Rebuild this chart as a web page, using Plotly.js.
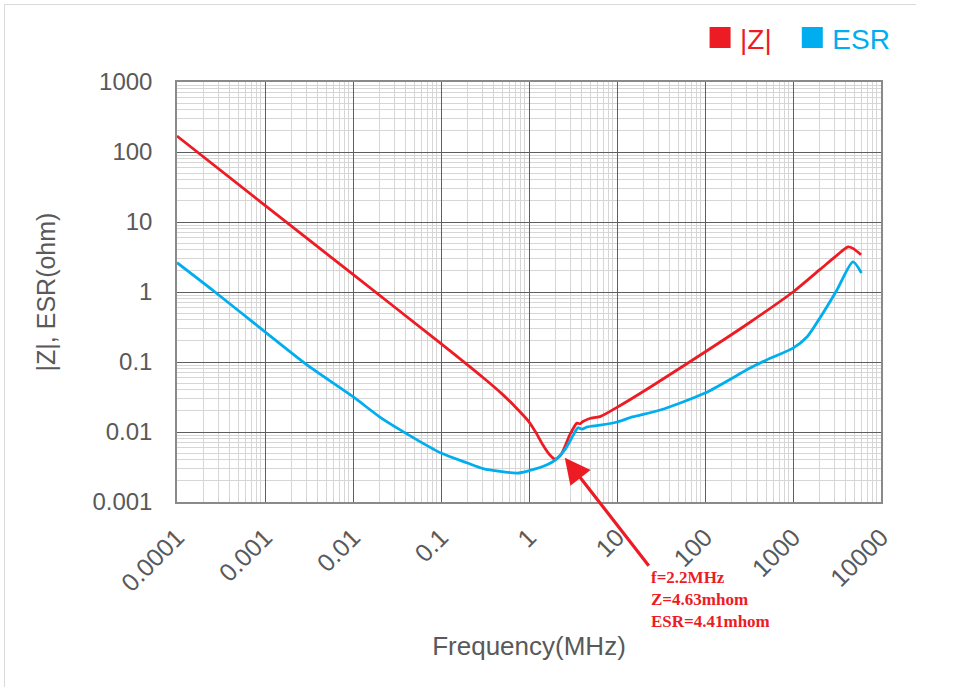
<!DOCTYPE html>
<html>
<head>
<meta charset="utf-8">
<script src="https://cdn.plot.ly/plotly-3.0.1.min.js"></script>
<style>
  body { margin: 0; background: #fff; }
  #frame { position: absolute; left: 4px; top: 4px; width: 911px; height: 682px;
           border-left: 1px solid #d9d9d9; border-top: 1px solid #d9d9d9; pointer-events: none; }
</style>
</head>
<body>
<div id="plot" style="width:975px;height:693px;"></div>
<div id="frame"></div>
<script>
// |Z| curve, frequency in MHz, impedance in ohm
var zFreq = [0.0001, 0.001, 0.01, 0.1, 0.3, 0.5, 0.7, 1.0, 1.2, 1.44, 1.7, 1.97, 2.3, 2.9, 3.5, 3.8, 4.1, 4.9, 6.4, 10, 24, 100, 325, 1000, 2030, 3200, 4220, 4800, 5930];
var zVals = [169, 17.3, 1.78, 0.183, 0.060, 0.0345, 0.0228, 0.0140, 0.0098, 0.0065, 0.0048, 0.0041, 0.0047, 0.0090, 0.0134, 0.0131, 0.0141, 0.0156, 0.0166, 0.0225, 0.044, 0.139, 0.37, 1.0, 2.1, 3.4, 4.4, 4.2, 3.4];

// ESR curve
var esrFreq = [0.0001, 0.00027, 0.001, 0.003, 0.01, 0.02, 0.034, 0.05, 0.1, 0.2, 0.3, 0.73, 1.0, 1.6, 2.0, 2.56, 3.2, 3.6, 4.0, 4.6, 6.4, 10, 15, 31, 100, 325, 500, 1000, 1450, 2030, 3160, 4800, 6000];
var esrVals = [2.62, 1.0, 0.27, 0.091, 0.0319, 0.0165, 0.0108, 0.0081, 0.0050, 0.0036, 0.0030, 0.00259, 0.0028, 0.0034, 0.0040, 0.0056, 0.0091, 0.0115, 0.0110, 0.0118, 0.0125, 0.0139, 0.0164, 0.0206, 0.036, 0.082, 0.107, 0.158, 0.23, 0.43, 1.07, 2.7, 1.87];

var xTickVals = [0.0001, 0.001, 0.01, 0.1, 1, 10, 100, 1000, 10000];
var xTickText = ["0.0001", "0.001", "0.01", "0.1", "1", "10", "100", "1000", "10000"];
var yTickVals = [0.001, 0.01, 0.1, 1, 10, 100, 1000];
var yTickText = ["0.001", "0.01", "0.1", "1", "10", "100", "1000"];

var red = "#ed1c24";
var blue = "#00aeef";

var zTrace = {x: zFreq, y: zVals, type: "scatter", mode: "lines",
              line: {color: red, width: 2.8, shape: "spline", smoothing: 0.7},
              showlegend: false, hoverinfo: "x+y"};

var esrTrace = {x: esrFreq, y: esrVals, type: "scatter", mode: "lines",
                line: {color: blue, width: 2.8, shape: "spline", smoothing: 0.7},
                showlegend: false, hoverinfo: "x+y"};

// legend entries drawn as squares
var zLegend = {x: [null], y: [null], type: "scatter", mode: "markers",
               marker: {color: red, symbol: "square", size: 16, line: {color: red, width: 5}},
               name: '<span style="color:' + red + '">|Z|&nbsp;&nbsp;</span>'};
var esrLegend = {x: [null], y: [null], type: "scatter", mode: "markers",
                 marker: {color: blue, symbol: "square", size: 16, line: {color: blue, width: 5}},
                 name: '<span style="color:' + blue + '">ESR</span>'};

var data = [zTrace, esrTrace, zLegend, esrLegend];

var tickFont = {family: "Liberation Sans, Arial, sans-serif", size: 24, color: "#595959"};
var titleFont = {family: "Liberation Sans, Arial, sans-serif", size: 25, color: "#595959"};

var layout = {
    width: 975,
    height: 693,
    margin: {l: 177, r: 94, t: 82, b: 191},
    paper_bgcolor: "#fff",
    plot_bgcolor: "#fff",
    font: tickFont,
    xaxis: {
        type: "log",
        range: [-4, 4],
        tickvals: xTickVals,
        ticktext: xTickText,
        tickangle: -45,
        tickfont: {family: tickFont.family, size: 25, color: tickFont.color},
        ticks: "outside",
        ticklen: 9,
        tickcolor: "rgba(0,0,0,0)",
        showgrid: true,
        gridcolor: "#5e5e5e",
        gridwidth: 1.4,
        showline: true,
        mirror: true,
        linecolor: "#8a8a8a",
        linewidth: 1.5,
        zeroline: false,
        minor: {dtick: "D1", showgrid: true, gridcolor: "#d6d6d6", gridwidth: 1},
        title: {text: "Frequency(MHz)", font: {family: titleFont.family, size: 26, color: titleFont.color}, standoff: 41}
    },
    yaxis: {
        type: "log",
        range: [-3, 3],
        tickvals: yTickVals,
        ticktext: yTickText,
        tickfont: tickFont,
        ticks: "outside",
        ticklen: 18,
        tickcolor: "rgba(0,0,0,0)",
        showgrid: true,
        gridcolor: "#5e5e5e",
        gridwidth: 1.4,
        showline: true,
        mirror: true,
        linecolor: "#8a8a8a",
        linewidth: 1.5,
        zeroline: false,
        minor: {dtick: "D1", showgrid: true, gridcolor: "#d6d6d6", gridwidth: 1},
        title: {text: "|Z|, ESR(ohm)", font: titleFont, standoff: 30}
    },
    legend: {
        orientation: "h",
        x: 1.02,
        xanchor: "right",
        y: 1.105,
        yanchor: "middle",
        font: {family: "Liberation Sans, Arial, sans-serif", size: 28},
        itemwidth: 30,
        bgcolor: "rgba(0,0,0,0)"
    },
    annotations: [{
        x: Math.log10(2.55),
        y: Math.log10(0.0043),
        xref: "x",
        yref: "y",
        ax: 84,
        ay: 108,
        xanchor: "left",
        yanchor: "top",
        align: "left",
        showarrow: true,
        arrowhead: 2,
        arrowsize: 1.6,
        arrowwidth: 3.2,
        arrowcolor: red,
        text: "<b>f=2.2MHz<br>Z=4.63mhom<br>ESR=4.41mhom</b>",
        font: {family: "Liberation Serif, DejaVu Serif, serif", size: 17, color: red}
    }]
};

Plotly.newPlot("plot", data, layout, {displayModeBar: false});
</script>
</body>
</html>
